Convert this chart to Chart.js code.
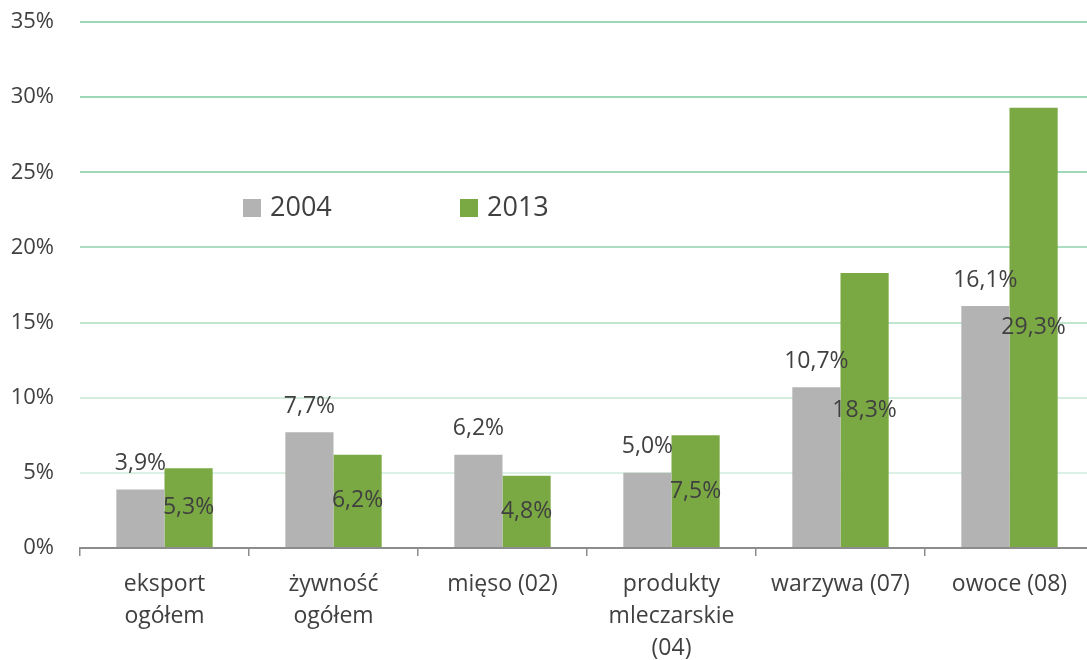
<!DOCTYPE html>
<html>
<head>
<meta charset="utf-8">
<script src="https://cdn.jsdelivr.net/npm/chart.js@4/dist/chart.umd.min.js"></script>
<style>
  html, body { margin: 0; padding: 0; background: #fff; overflow: hidden; }
  canvas { display: block; }
</style>
</head>
<body>
<canvas id="eksportChart" width="1096" height="660"></canvas>
<script>
    // Kategorie (etykiety osi X, wielowierszowe)
    const kategorie = [
        ['eksport', 'ogółem'],
        ['żywność', 'ogółem'],
        'mięso (02)',
        ['produkty', 'mleczarskie', '(04)'],
        'warzywa (07)',
        'owoce (08)'
    ];

    // Wartości serii (%)
    const dane2004 = [3.9, 7.7, 6.2, 5.0, 10.7, 16.1];
    const dane2013 = [5.3, 6.2, 4.8, 7.5, 18.3, 29.3];

    // Podziałka osi Y
    const yMax = 35;
    const yKrok = 5;

    const kolorSzary = '#b3b3b3';
    const kolorZielony = '#7aa843';
    const kolorTekstu = '#404040';
    const czcionka = '"Open Sans", "DejaVu Sans", sans-serif';

    const fmt = v => v.toFixed(1).replace('.', ',') + '%';

    // Etykiety wartości: 2004 nad słupkiem, 2013 na środku słupka
    const etykietyPlugin = {
        id: 'etykiety',
        afterDatasetsDraw(chart) {
            const ctx = chart.ctx;
            ctx.save();
            ctx.font = '23px ' + czcionka;
            ctx.fillStyle = kolorTekstu;
            ctx.textAlign = 'center';
            ctx.textBaseline = 'middle';
            chart.data.datasets.forEach((ds, i) => {
                const meta = chart.getDatasetMeta(i);
                meta.data.forEach((bar, j) => {
                    const y = i === 0 ? bar.y - 26 : (bar.y + bar.base) / 2;
                    ctx.fillText(fmt(ds.data[j]), bar.x, y);
                });
            });
            ctx.restore();
        }
    };

    // Legenda wewnątrz obszaru wykresu
    const legendaPlugin = {
        id: 'legenda',
        afterDraw(chart) {
            const ctx = chart.ctx;
            const pozycje = [243, 460];
            ctx.save();
            ctx.font = '27px ' + czcionka;
            ctx.textBaseline = 'middle';
            ctx.textAlign = 'left';
            chart.data.datasets.forEach((ds, i) => {
                const x = pozycje[i];
                ctx.fillStyle = ds.backgroundColor;
                ctx.fillRect(x, 199, 18, 18);
                ctx.fillStyle = kolorTekstu;
                ctx.fillText(ds.label, x + 27, 208);
            });
            ctx.restore();
        }
    };

    const kolorySiatki = {
        0: 'rgba(0,0,0,0)',
        5: '#dcf1e5',
        10: '#d3eede',
        15: '#bfe6cf',
        20: '#acdfc1',
        25: '#a0d9b7',
        30: '#9dd8b5',
        35: '#9dd8b5'
    };

    const config = {
        type: 'bar',
        data: {
            labels: kategorie,
            datasets: [
                {
                    label: '2004',
                    data: dane2004,
                    backgroundColor: kolorSzary,
                    borderWidth: 0,
                    categoryPercentage: 0.57,
                    barPercentage: 1.0
                },
                {
                    label: '2013',
                    data: dane2013,
                    backgroundColor: kolorZielony,
                    borderWidth: 0,
                    categoryPercentage: 0.57,
                    barPercentage: 1.0
                }
            ]
        },
        options: {
            responsive: false,
            animation: false,
            layout: {
                padding: { top: 22, right: 2, left: 0, bottom: 0 }
            },
            plugins: {
                legend: { display: false },
                tooltip: { enabled: false }
            },
            scales: {
                x: {
                    grid: {
                        drawOnChartArea: false,
                        drawTicks: true,
                        tickLength: 8,
                        color: '#8c8c8c',
                        lineWidth: 1.5
                    },
                    border: {
                        display: true,
                        color: '#8c8c8c',
                        width: 2
                    },
                    ticks: {
                        color: kolorTekstu,
                        padding: 12,
                        maxRotation: 0,
                        autoSkip: false,
                        font: { family: czcionka, size: 23, lineHeight: 32 / 23 }
                    },
                    afterFit(scale) { scale.height = 112; }
                },
                y: {
                    min: 0,
                    max: yMax,
                    grid: {
                        drawTicks: false,
                        lineWidth: 2,
                        color: c => kolorySiatki[c.tick.value] || '#bfe6cf'
                    },
                    border: { display: false },
                    ticks: {
                        stepSize: yKrok,
                        color: kolorTekstu,
                        padding: 26,
                        font: { family: czcionka, size: 22 },
                        callback: v => v + '%'
                    },
                    afterFit(scale) {
                        scale.width = 80;
                        scale.paddingTop = 0;
                        scale.paddingBottom = 0;
                    }
                }
            }
        },
        plugins: [etykietyPlugin, legendaPlugin]
    };

    const ctx = document.getElementById('eksportChart').getContext('2d');
    new Chart(ctx, config);
</script>
</body>
</html>
